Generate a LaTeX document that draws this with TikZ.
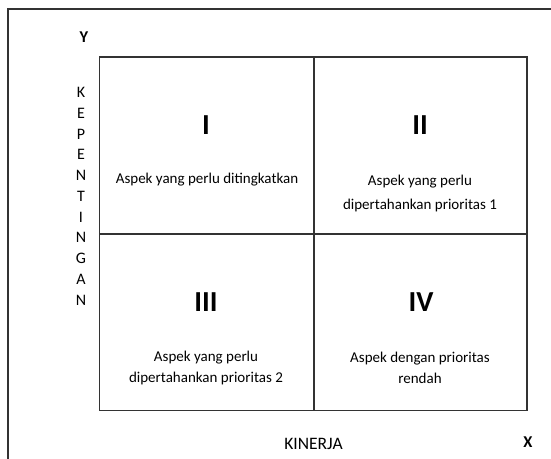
\documentclass[tikz,border=0pt]{standalone}
\usepackage{fontspec}
\setmainfont{Carlito}
\begin{document}
\begin{tikzpicture}[x=1pt,y=-1pt,
  frameline/.style={draw=black!80, line width=1.5pt},
  gridline/.style={draw=black!80, line width=1.4pt},
  numeral/.style={font=\fontsize{29}{32}\selectfont\bfseries},
  desc/.style={font=\fontsize{15}{21}\selectfont, align=center},
  axislabel/.style={font=\fontsize{16.5}{19}\selectfont\bfseries},
  vletter/.style={font=\fontsize{16}{18}\selectfont},
  hlabel/.style={font=\fontsize{17.5}{20}\selectfont}]
\useasboundingbox (0,0) rectangle (551,458);
\begin{scope}
\clip (0,0) rectangle (551,458);
% outer frame, running off the page to the right and bottom
\draw[frameline] (8,470) -- (8,9) -- (560,9);
\end{scope}
% quadrant grid
\draw[gridline] (99.5,57) rectangle (527,410.5);
\draw[gridline] (314,57) -- (314,410.5);
\draw[gridline] (99.5,234) -- (527,234);
% quadrant numerals
\node[numeral] (q1) at (206,125) {I};
\node[numeral] (q2) at (420,125) {II};
\node[numeral] (q3) at (206,302) {III};
\node[numeral] (q4) at (421,302) {IV};
% quadrant descriptions
\node[desc] (d1) at (207,180) {Aspek yang perlu ditingkatkan};
\node[desc, font=\fontsize{15}{24}\selectfont] (d2) at (420,193) {Aspek yang perlu\\dipertahankan prioritas 1};
\node[desc] (d3) at (206,368) {Aspek yang perlu\\dipertahankan prioritas 2};
\node[desc] (d4) at (420,368) {Aspek dengan prioritas\\rendah};
% axes
\node[axislabel] (ay) at (84,37.5) {Y};
\node[axislabel] (ax) at (528,442.5) {X};
\node[hlabel] (kinerja) at (313.5,444) {KINERJA};
\foreach \ch [count=\i from 0] in {K,E,P,E,N,T,I,N,G,A,N}
  \node[vletter] (v\i) at (81,{92.5+20.75*\i}) {\ch};
\end{tikzpicture}
\end{document}
